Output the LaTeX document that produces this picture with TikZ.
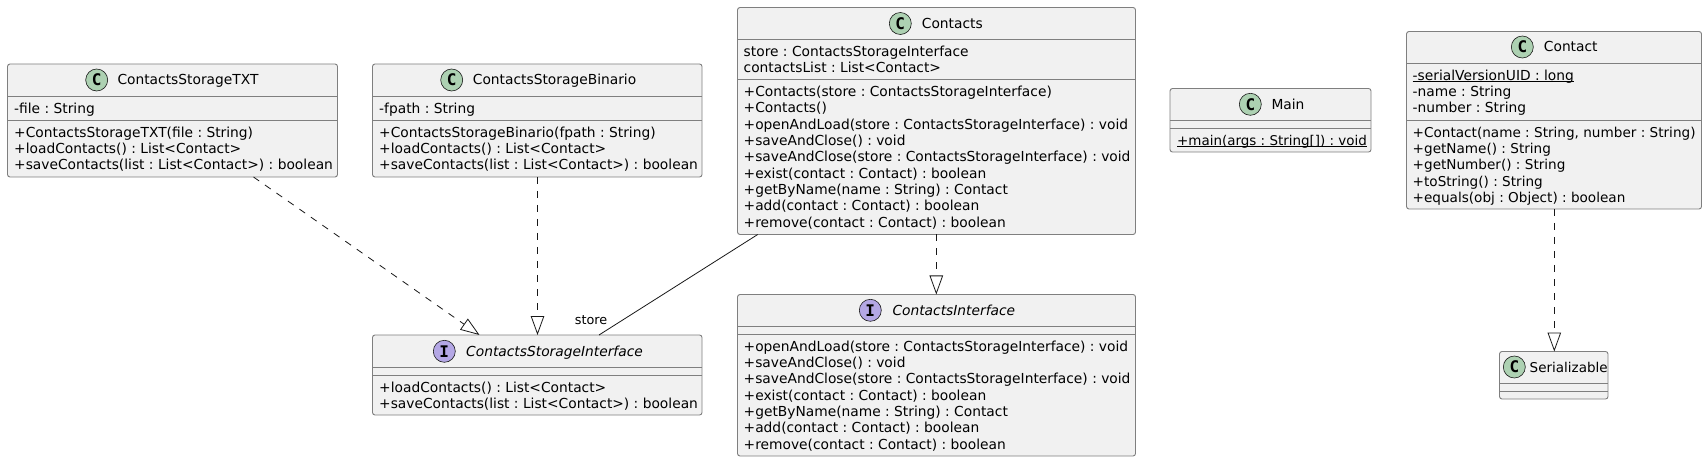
\documentclass[tikz,border=0pt]{standalone}
\usepackage{fontspec}
\setmainfont{DejaVu Sans}
\newfontfamily\spotfont{DejaVu Sans Mono}
\usetikzlibrary{arrows.meta}
\definecolor{boxfill}{HTML}{F1F1F1}
\definecolor{boxline}{HTML}{7F7F7F}
\definecolor{ink}{HTML}{181818}
\definecolor{spotgreen}{HTML}{ADD1B2}
\definecolor{spotpurple}{HTML}{B4A7E5}
\newcommand{\umem}[1]{\setbox0\hbox{#1}\rlap{\rule[-2.2pt]{\wd0}{0.9pt}}\box0}
\newcommand{\fl}{\rule{0pt}{13pt}}
\frenchspacing
\tikzset{
  x=1pt,y=-1pt,
  umlbox/.style={draw=boxline,fill=boxfill,line width=0.9pt,rounded corners=2.5pt,anchor=north west,inner sep=0pt,outer sep=0pt},
  divider/.style={draw=boxline,line width=0.9pt},
  spotbase/.style={circle,draw=ink,line width=0.6pt,minimum size=22pt,inner sep=0pt,font=\spotfont\bfseries\fontsize{16}{16}\selectfont,text=black},
  spotc/.style={spotbase,fill=spotgreen},
  spoti/.style={spotbase,fill=spotpurple},
  titletext/.style={anchor=base west,inner sep=0pt,text=black,font=\frenchspacing\fontsize{13.8}{16.3}\selectfont},
  ititle/.style={titletext,font=\fontsize{13.8}{16.3}\selectfont\itshape},
  memtext/.style={anchor=north west,inner sep=0pt,align=left,text=black,font=\frenchspacing\fontsize{13.8}{16.3}\selectfont},
  tightmem/.style={memtext,font=\frenchspacing\fontsize{13.6}{16.3}\selectfont},
  dep/.style={draw=ink,line width=0.8pt,dash pattern=on 7pt off 7pt,-{Triangle[open,length=19pt,width=13.5pt,line width=0.8pt,fill=white]}},
  assoc/.style={draw=ink,line width=0.8pt},
  rolelabel/.style={anchor=base west,inner sep=0pt,text=black,font=\fontsize{12.8}{15}\selectfont}
}
\begin{document}
\begin{tikzpicture}
\useasboundingbox (0,0) rectangle (1707,462);
\fill[white] (0,0) rectangle (1707,462);

% ContactsStorageTXT
\node[umlbox,minimum width=330pt,minimum height=113pt] (txt) at (7.5,64) {};
\draw[divider] (7.5,96.5) -- (337.5,96.5);
\draw[divider] (7.5,120) -- (337.5,120);
\node[spotc] (txtspot) at (96.7,80) {C};
\node[titletext] (txttitle) at (117.3,85) {ContactsStorageTXT};
\node[memtext] (txtattr) at (14,100.5) {\fl -file : String};
\node[memtext] (txtmeth) at (14,124) {\fl +ContactsStorageTXT(file : String)\\+loadContacts() : List<Contact>\\+saveContacts(list : List<Contact>) : boolean};

% ContactsStorageBinario
\node[umlbox,minimum width=329.5pt,minimum height=113pt] (bin) at (372.5,64) {};
\draw[divider] (372.5,96.5) -- (702,96.5);
\draw[divider] (372.5,120) -- (702,120);
\node[spotc] (binspot) at (451.7,80) {C};
\node[titletext] (bintitle) at (472.7,85) {ContactsStorageBinario};
\node[memtext] (binattr) at (379,100.5) {\fl -fpath : String};
\node[memtext] (binmeth) at (379,124) {\fl +ContactsStorageBinario(fpath : String)\\+loadContacts() : List<Contact>\\+saveContacts(list : List<Contact>) : boolean};

% Contacts
\node[umlbox,minimum width=398pt,minimum height=227pt] (contacts) at (737.5,7.5) {};
\draw[divider] (737.5,39.5) -- (1135.5,39.5);
\draw[divider] (737.5,79.5) -- (1135.5,79.5);
\node[spotc] (contactsspot) at (900.3,23.5) {C};
\node[titletext] (contactstitle) at (921.7,28.5) {Contacts};
\node[memtext] (contactsattr) at (743.5,43.5) {\fl store : ContactsStorageInterface\\contactsList : List<Contact>};
\node[memtext] (contactsmeth) at (743.5,83.5) {\fl +Contacts(store : ContactsStorageInterface)\\+Contacts()\\+openAndLoad(store : ContactsStorageInterface) : void\\+saveAndClose() : void\\+saveAndClose(store : ContactsStorageInterface) : void\\+exist(contact : Contact) : boolean\\+getByName(name : String) : Contact\\+add(contact : Contact) : boolean\\+remove(contact : Contact) : boolean};

% ContactsInterface
\node[umlbox,minimum width=398pt,minimum height=161.5pt] (ci) at (737.5,294.5) {};
\draw[divider] (737.5,326.5) -- (1135.5,326.5);
\draw[divider] (737.5,334) -- (1135.5,334);
\node[spoti] (cispot) at (870.3,310.3) {I};
\node[ititle] (cititle) at (892.3,315.3) {ContactsInterface};
\node[memtext] (cimeth) at (743.5,338) {\fl +openAndLoad(store : ContactsStorageInterface) : void\\+saveAndClose() : void\\+saveAndClose(store : ContactsStorageInterface) : void\\+exist(contact : Contact) : boolean\\+getByName(name : String) : Contact\\+add(contact : Contact) : boolean\\+remove(contact : Contact) : boolean};

% ContactsStorageInterface
\node[umlbox,minimum width=329.5pt,minimum height=80pt] (csi) at (372.5,335) {};
\draw[divider] (372.5,367) -- (702,367);
\draw[divider] (372.5,375) -- (702,375);
\node[spoti] (csispot) at (444.3,351.3) {I};
\node[ititle] (csititle) at (466,356.3) {ContactsStorageInterface};
\node[memtext] (csimeth) at (379,379) {\fl +loadContacts() : List<Contact>\\+saveContacts(list : List<Contact>) : boolean};

% Main
\node[umlbox,minimum width=201pt,minimum height=63.5pt] (main) at (1170,88.5) {};
\draw[divider] (1170,120) -- (1371,120);
\draw[divider] (1170,128) -- (1371,128);
\node[spotc] (mainspot) at (1250.3,104.3) {C};
\node[titletext] (maintitle) at (1271.3,109.3) {Main};
\node[tightmem,font=\frenchspacing\fontsize{13.45}{16.3}\selectfont] (mainmeth) at (1177,132) {\fl\umem{+main(args : String[]) : void}};

% Contact
\node[umlbox,minimum width=295pt,minimum height=177.5pt] (contact) at (1406.5,31.5) {};
\draw[divider] (1406.5,63) -- (1701.5,63);
\draw[divider] (1406.5,120) -- (1701.5,120);
\node[spotc] (contactspot) at (1522.3,47) {C};
\node[titletext] (contacttitle) at (1543.7,52) {Contact};
\node[memtext] (contactattr) at (1412.5,67) {\fl\umem{-serialVersionUID : long}\\-name : String\\-number : String};
\node[tightmem] (contactmeth) at (1412.5,124) {\fl +Contact(name : String, number : String)\\+getName() : String\\+getNumber() : String\\+toString() : String\\+equals(obj : Object) : boolean};

% Serializable
\node[umlbox,minimum width=108.5pt,minimum height=47.5pt] (ser) at (1499.5,351.5) {};
\draw[divider] (1499.5,383.5) -- (1608,383.5);
\draw[divider] (1499.5,391) -- (1608,391);
\node[spotc] (serspot) at (1514.3,367) {C};
\node[titletext,font=\fontsize{13.5}{16.3}\selectfont] (sertitle) at (1529.5,372) {Serializable};

% Connectors
\draw[dep] ([xshift=246pt]txt.south west) -- ([xshift=107pt]csi.north west);
\draw[dep] ([xshift=165pt]bin.south west) -- ([xshift=165pt]csi.north west);
\draw[dep] ([xshift=198.8pt]contacts.south west) -- ([xshift=198.8pt]ci.north west);
\draw[dep] ([xshift=147.8pt]contact.south west) -- ([xshift=54.8pt]ser.north west);
\draw[assoc] ([xshift=20.2pt]contacts.south west) -- ([xshift=226.5pt]csi.north west);
\node[rolelabel] (storelabel) at (574.7,324) {store};
\end{tikzpicture}
\end{document}
